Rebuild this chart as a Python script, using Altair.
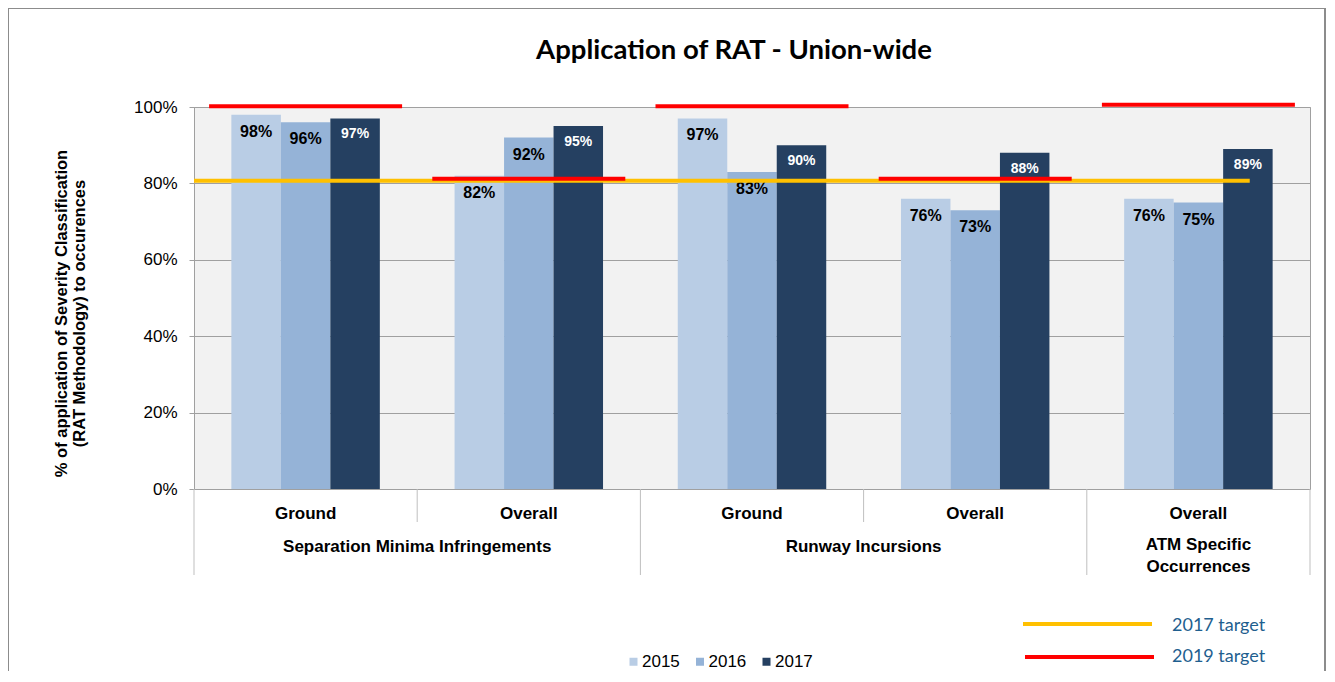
import altair as alt
import pandas as pd

# ---------------- data ----------------
categories = ["Separation Minima Infringements", "Separation Minima Infringements",
              "Runway Incursions", "Runway Incursions", "ATM Specific Occurrences"]
subcats = ["Ground", "Overall", "Ground", "Overall", "Overall"]
years = ["2015", "2016", "2017"]
v2015 = [98, 82, 97, 76, 76]
v2016 = [96, 92, 83, 73, 75]
v2017 = [97, 95, 90, 88, 89]
target_2019 = [100.2, 81.2, 100.2, 81.2, 100.6]
target_2017 = 80.7
category_labels = ["Separation Minima Infringements", "Runway Incursions", "ATM Specific\nOccurrences"]

year_colors = ["#B9CDE5", "#95B3D7", "#254061"]
target_names = ["2017 target", "2019 target"]
target_colors = ["#FFC000", "#FF0000"]

groups = [f"{c}|{s}" for c, s in zip(categories, subcats)]

rows = []
for yr, vals in zip(years, [v2015, v2016, v2017]):
    for g, v in zip(groups, vals):
        rows.append({"group": g, "year": yr, "value": v, "label": f"{v}%"})
bars_df = pd.DataFrame(rows)

t19_df = pd.DataFrame({"group": groups, "value": target_2019, "target": "2019 target"})
t17_df = pd.DataFrame({"target": ["2017 target"], "value": [target_2017]})

first_flags = [i == 0 or categories[i] != categories[i - 1] for i in range(len(groups))]
sep_df = pd.DataFrame({"group": groups, "first": first_flags})

cat_df = pd.DataFrame({
    "anchor": [groups[0], groups[2], groups[4]],
    "text": category_labels,
    "pos": [1.0, 1.0, 0.5],
})

FONT = "Liberation Sans"
W, H = 1116, 382

x_scale = alt.Scale(domain=groups, paddingInner=0, paddingOuter=0)
year_scale = alt.Scale(domain=years, range=year_colors)

base = alt.Chart(bars_df)

bars = base.mark_bar().encode(
    x=alt.X("group:N", scale=x_scale, title=None,
            axis=alt.Axis(labelExpr="split(datum.label, '|')[1]", labelAngle=0,
                          labelFont=FONT, labelFontWeight="bold", labelFontSize=17,
                          labelColor="black", ticks=False, labelPadding=16,
                          domainColor="#A0A0A0", grid=False)),
    xOffset=alt.XOffset("year:N", scale=alt.Scale(domain=years, paddingInner=0, paddingOuter=0.755)),
    y=alt.Y("value:Q", scale=alt.Scale(domain=[0, 100], nice=False),
            title=["% of application of Severity Classification", "(RAT Methodology) to occurences"],
            axis=alt.Axis(values=[0, 20, 40, 60, 80, 100], labelExpr="datum.value + '%'",
                          labelFont=FONT, labelFontSize=17, labelColor="black",
                          tickSize=5, tickColor="#A0A0A0", domainColor="#A0A0A0",
                          gridColor="#A0A0A0", labelPadding=12,
                          titleFont=FONT, titleFontSize=16.5, titleFontWeight="bold",
                          titleColor="black", titlePadding=46, titleLineHeight=18, titleY=206)),
    color=alt.Color("year:N", scale=year_scale,
                    legend=alt.Legend(orient="none", direction="horizontal", legendX=431, legendY=546,
                                      title=None, symbolType="square", symbolSize=64,
                                      symbolStrokeWidth=0, labelFont=FONT, labelFontSize=17,
                                      labelColor="black", labelOffset=0, columnPadding=11.5, padding=0)),
)

labels_dark = base.transform_filter("datum.year != '2017'").mark_text(
    font=FONT, fontWeight="bold", fontSize=16, color="black", baseline="middle", dy=17
).encode(x=alt.X("group:N"), xOffset=alt.XOffset("year:N"), y="value:Q", text="label:N")

labels_light = base.transform_filter("datum.year == '2017'").mark_text(
    font=FONT, fontWeight="bold", fontSize=14, color="white", baseline="middle", dy=16
).encode(x=alt.X("group:N"), xOffset=alt.XOffset("year:N"), y="value:Q", text="label:N")

orange = alt.Chart(t17_df).mark_rule(strokeWidth=4, color=target_colors[0]).encode(
    x=alt.X(datum=groups[0], bandPosition=0),
    x2=alt.X2(datum=groups[4], bandPosition=0.73),
    y=alt.Y("value:Q"),
)

red = alt.Chart(t19_df).mark_tick(thickness=4, size=193, opacity=1, color=target_colors[1]).encode(
    x=alt.X("group:N"),
    y=alt.Y("value:Q"),
)

# manual legend for the target lines
legend_rows = []
for i, (name, col) in enumerate(zip(target_names, target_colors)):
    legend_rows.append(
        alt.Chart(pd.DataFrame({"name": [name]})).mark_rule(strokeWidth=4, color=col).encode(
            x=alt.value(829 + 2 * i), x2=alt.value(958 + 2 * i), y=alt.value(517 + 33 * i))
    )
    legend_rows.append(
        alt.Chart(pd.DataFrame({"name": [name]})).mark_text(
            font="Lato", fontSize=18, color="#1F5F8F", align="left", baseline="middle"
        ).encode(x=alt.value(978), y=alt.value(519 + 31 * i), text="name:N")
    )

short_sep = alt.Chart(sep_df).transform_filter("!datum.first").mark_rule(
    color="#BFBFBF", strokeWidth=1
).encode(x=alt.X("group:N", bandPosition=0), y=alt.value(H), y2=alt.value(H + 33))

long_sep = alt.Chart(sep_df).transform_filter("datum.first").mark_rule(
    color="#BFBFBF", strokeWidth=1
).encode(x=alt.X("group:N", bandPosition=0), y=alt.value(H), y2=alt.value(H + 86))

right_sep = alt.Chart(sep_df).transform_filter("datum.group == '%s'" % groups[4]).mark_rule(
    color="#BFBFBF", strokeWidth=1
).encode(x=alt.X("group:N", bandPosition=1), y=alt.value(H), y2=alt.value(H + 86))

cat_two = alt.Chart(cat_df).transform_filter("datum.pos == 1").mark_text(
    font=FONT, fontWeight="bold", fontSize=17, color="black", baseline="top", lineBreak="\n", lineHeight=22
).encode(x=alt.X("anchor:N", bandPosition=1), y=alt.value(H + 50), text="text:N")

cat_one = alt.Chart(cat_df).transform_filter("datum.pos != 1").mark_text(
    font=FONT, fontWeight="bold", fontSize=17, color="black", baseline="top", lineBreak="\n", lineHeight=22
).encode(x=alt.X("anchor:N", bandPosition=0.5), y=alt.value(H + 48), text="text:N")

title = alt.Chart(pd.DataFrame({"t": ["Application of RAT - Union-wide"]})).mark_text(
    font="Lato", fontWeight="bold", fontSize=27.5, color="black", baseline="middle"
).encode(x=alt.value(540), y=alt.value(-56), text="t:N")

frame = alt.Chart(pd.DataFrame({"f": [1]})).mark_rect(
    fill="transparent", stroke="#8C8C8C", strokeWidth=2
).encode(x=alt.value(-186), x2=alt.value(1131), y=alt.value(-99), y2=alt.value(700))

chart = alt.layer(
    bars, labels_dark, labels_light, orange, red, *legend_rows,
    short_sep, long_sep, right_sep, cat_two, cat_one, title, frame
).properties(
    width=W, height=H,
    autosize=alt.AutoSizeParams(type="none"),
    padding={"left": 186, "top": 99, "right": 17, "bottom": 182},
).configure_view(stroke="#A0A0A0", fill="#F2F2F2")

chart.save("out.html", embed_options={"renderer": "svg", "actions": False})
